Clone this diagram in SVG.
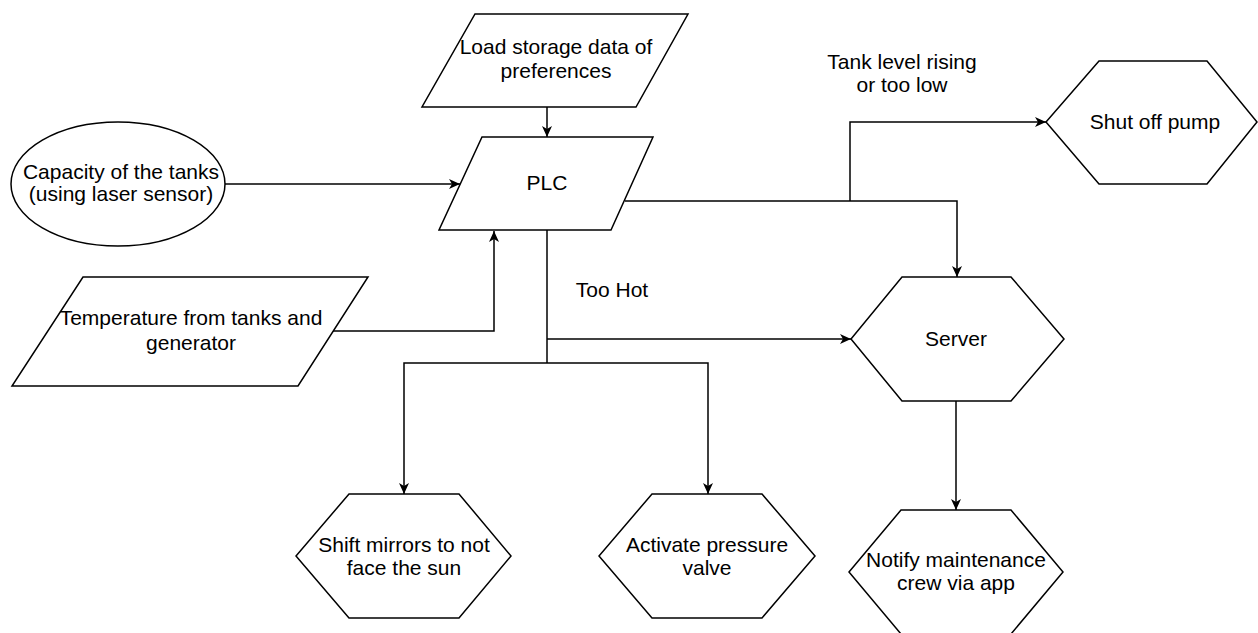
<svg xmlns="http://www.w3.org/2000/svg" width="1258" height="633" viewBox="0 0 1258 633">
<defs>
<marker id="arr" markerUnits="userSpaceOnUse" markerWidth="12" markerHeight="10" refX="11" refY="5" orient="auto">
<path d="M0,0 L11,5 L0,10 L3,5 Z" fill="#000"/>
</marker>
<style>
.s{fill:#fff;stroke:#000;stroke-width:1.5}
.t{font-family:"Liberation Sans",Arial,sans-serif;font-size:21px;fill:#000;text-anchor:middle}
.c{fill:none;stroke:#000;stroke-width:1.5}
</style>
</defs>
<rect width="1258" height="633" fill="#fff"/>
<g id="connectors">
<path class="c" d="M547 107 V137" marker-end="url(#arr)"/>
<path class="c" d="M225 184 H460" marker-end="url(#arr)"/>
<path class="c" d="M333 331 H494 V231" marker-end="url(#arr)"/>
<path class="c" d="M625 201 H957 V277" marker-end="url(#arr)"/>
<path class="c" d="M850 201 V122 H1046" marker-end="url(#arr)"/>
<path class="c" d="M547 230 V363"/>
<path class="c" d="M547 339 H851" marker-end="url(#arr)"/>
<path class="c" d="M547 363 H404 V494" marker-end="url(#arr)"/>
<path class="c" d="M547 363 H708 V494" marker-end="url(#arr)"/>
<path class="c" d="M956 401 V510" marker-end="url(#arr)"/>
</g>
<g id="label-hot"><text class="t" x="612" y="297">Too Hot</text></g>
<g id="label-tank"><text class="t" x="902" y="69">Tank level rising</text><text class="t" x="902" y="92">or too low</text></g>
<g id="load">
<polygon class="s" points="475,14 688,14 636,107 422,107"/>
<text class="t" x="556" y="54">Load storage data of</text>
<text class="t" x="556" y="78">preferences</text>
</g>
<g id="plc">
<polygon class="s" points="482,137 653,137 611,230 439,230"/>
<text class="t" x="547" y="190">PLC</text>
</g>
<g id="capacity">
<ellipse class="s" cx="118" cy="184" rx="107" ry="62"/>
<text class="t" x="121" y="179">Capacity of the tanks</text>
<text class="t" x="121" y="201">(using laser sensor)</text>
</g>
<g id="temperature">
<polygon class="s" points="83,277 368,277 298,386 12,386"/>
<text class="t" x="191" y="325">Temperature from tanks and</text>
<text class="t" x="191" y="350">generator</text>
</g>
<g id="shutoff">
<polygon class="s" points="1099,61 1207,61 1257,122 1207,184 1099,184 1046,122"/>
<text class="t" x="1155" y="129">Shut off pump</text>
</g>
<g id="server">
<polygon class="s" points="902,277 1011,277 1064,339 1011,401 902,401 851,339"/>
<text class="t" x="956" y="346">Server</text>
</g>
<g id="mirrors">
<polygon class="s" points="349,494 459,494 511,556 459,618 349,618 296,556"/>
<text class="t" x="404" y="552">Shift mirrors to not</text>
<text class="t" x="404" y="575">face the sun</text>
</g>
<g id="valve">
<polygon class="s" points="652,494 762,494 815,556 762,618 652,618 599,556"/>
<text class="t" x="707" y="552">Activate pressure</text>
<text class="t" x="707" y="575">valve</text>
</g>
<g id="notify">
<polygon class="s" points="901,510 1011,510 1063,572 1011,634 901,634 849,572"/>
<text class="t" x="956" y="567">Notify maintenance</text>
<text class="t" x="956" y="590">crew via app</text>
</g>
</svg>
